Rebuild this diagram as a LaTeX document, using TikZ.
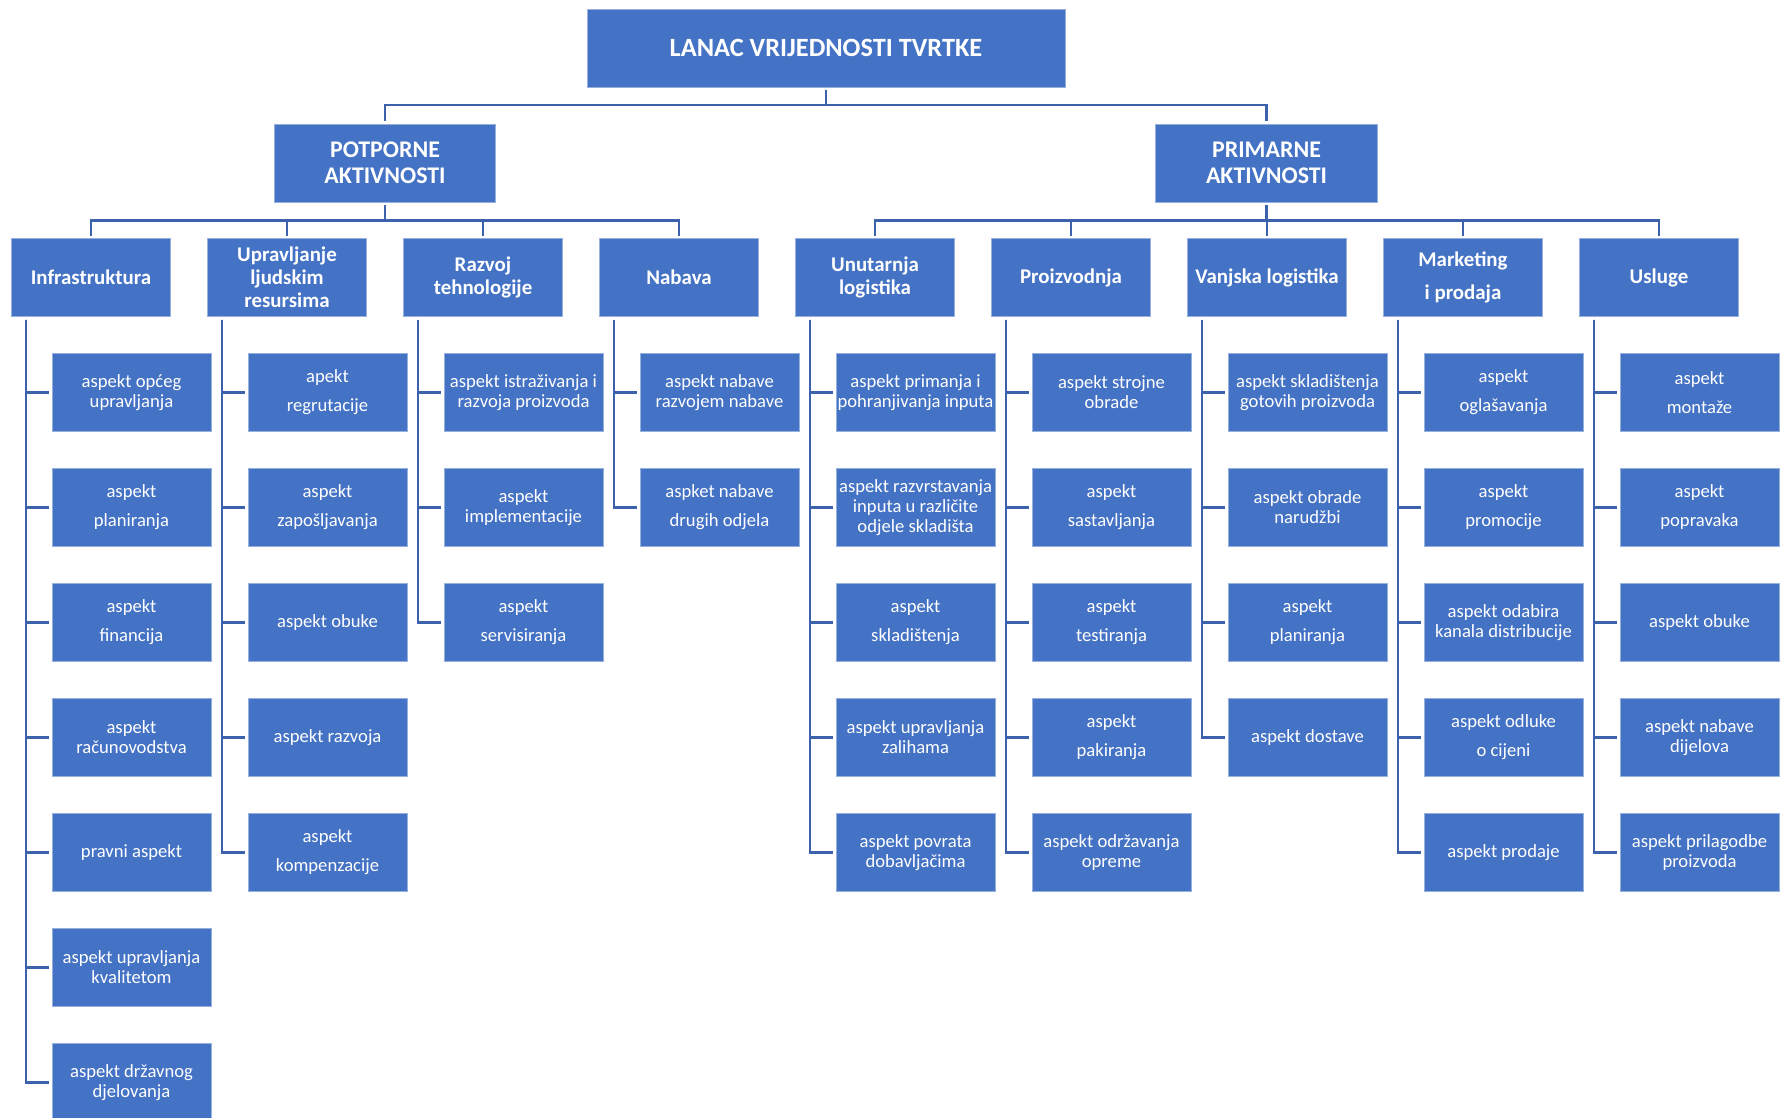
\documentclass[tikz,border=0pt]{standalone}
\usepackage{fontspec}
\setmainfont{Carlito}
\usepackage{xcolor}
\usetikzlibrary{positioning}
\definecolor{boxblue}{RGB}{68,114,196}
\definecolor{boxedge}{RGB}{150,176,222}
\definecolor{lineblue}{RGB}{60,98,173}
\tikzset{%
	chainbox/.style  = {draw=boxedge, line width=0.5pt, fill=boxblue, text=white, inner sep=0pt, outer sep=0.06cm, align=center},
	headbox/.style   = {chainbox, minimum width=9.56cm, minimum height=1.56cm, font=\bfseries\fontsize{15}{18}\selectfont},
	groupbox/.style  = {chainbox, minimum width=4.43cm, minimum height=1.56cm, font=\bfseries\fontsize{13.6}{14.6}\selectfont},
	areabox/.style   = {chainbox, minimum width=3.18cm, minimum height=1.56cm, font=\bfseries\fontsize{11.9}{13.1}\selectfont},
	aspectbox/.style = {chainbox, minimum width=3.18cm, minimum height=1.56cm, font=\fontsize{10.6}{11.4}\selectfont},
	loose/.style     = {font=\fontsize{10.6}{16.5}\selectfont},
	looseb/.style    = {font=\bfseries\fontsize{11.9}{18.8}\selectfont},
	link/.style      = {draw=lineblue, line width=1.4pt},
}

\begin{document}
\begin{tikzpicture}[x=0.02cm,y=-0.02cm]
	\useasboundingbox (0,0) rectangle (1787,1117);
	% top
	\node[headbox] (lanac) at (826,48) {LANAC VRIJEDNOSTI TVRTKE};
	\node[groupbox] (potporne) at (385,163) {POTPORNE\\AKTIVNOSTI};
	\node[groupbox] (primarne) at (1266.5,163) {PRIMARNE\\AKTIVNOSTI};
	\draw[link] (lanac.south) -- ++(0,15) -| (potporne.north);
	\draw[link] (lanac.south) -- ++(0,15) -| (primarne.north);
	% second level
	\node[areabox] (infra) at (91,277.7) {Infrastruktura};
	\node[areabox] (ljudi) at (287,277.7) {Upravljanje\\ljudskim\\resursima};
	\node[areabox] (tehno) at (483,277.7) {Razvoj\\tehnologije};
	\node[areabox] (nabava) at (679,277.7) {Nabava};
	\node[areabox] (unutlog) at (875,277.7) {Unutarnja\\logistika};
	\node[areabox] (proizv) at (1071,277.7) {Proizvodnja};
	\node[areabox] (vanjlog) at (1267,277.7) {Vanjska logistika};
	\node[areabox,looseb] (market) at (1463,277.7) {Marketing\\i prodaja};
	\node[areabox] (usluge) at (1659,277.7) {Usluge};
	\draw[link] (potporne.south) -- ++(0,15.3) -| (infra.north);
	\draw[link] (potporne.south) -- ++(0,15.3) -| (ljudi.north);
	\draw[link] (potporne.south) -- ++(0,15.3) -| (tehno.north);
	\draw[link] (potporne.south) -- ++(0,15.3) -| (nabava.north);
	\draw[link] (primarne.south) -- ++(0,15.3) -| (unutlog.north);
	\draw[link] (primarne.south) -- ++(0,15.3) -| (proizv.north);
	\draw[link] (primarne.south) -- ++(0,15.3) -| (vanjlog.north);
	\draw[link] (primarne.south) -- ++(0,15.3) -| (market.north);
	\draw[link] (primarne.south) -- ++(0,15.3) -| (usluge.north);
	% infrastruktura
	\node[aspectbox] (i1) at (131.5,392.5) {aspekt općeg\\upravljanja};
	\node[aspectbox,loose] (i2) at (131.5,507.5) {aspekt\\planiranja};
	\node[aspectbox,loose] (i3) at (131.5,622.5) {aspekt\\financija};
	\node[aspectbox] (i4) at (131.5,737.5) {aspekt\\računovodstva};
	\node[aspectbox] (i5) at (131.5,852.5) {pravni aspekt};
	\node[aspectbox] (i6) at (131.5,967.5) {aspekt upravljanja\\kvalitetom};
	\node[aspectbox] (i7) at (131.5,1082.5) {aspekt državnog\\djelovanja};
	\draw[link] (infra.south) ++(-65,0) |- (i1.west);
	\draw[link] (infra.south) ++(-65,0) |- (i2.west);
	\draw[link] (infra.south) ++(-65,0) |- (i3.west);
	\draw[link] (infra.south) ++(-65,0) |- (i4.west);
	\draw[link] (infra.south) ++(-65,0) |- (i5.west);
	\draw[link] (infra.south) ++(-65,0) |- (i6.west);
	\draw[link] (infra.south) ++(-65,0) |- (i7.west);
	% ljudski resursi
	\node[aspectbox,loose] (l1) at (327.5,392.5) {apekt\\regrutacije};
	\node[aspectbox,loose] (l2) at (327.5,507.5) {aspekt\\zapošljavanja};
	\node[aspectbox] (l3) at (327.5,622.5) {aspekt obuke};
	\node[aspectbox] (l4) at (327.5,737.5) {aspekt razvoja};
	\node[aspectbox,loose] (l5) at (327.5,852.5) {aspekt\\kompenzacije};
	\draw[link] (ljudi.south) ++(-65,0) |- (l1.west);
	\draw[link] (ljudi.south) ++(-65,0) |- (l2.west);
	\draw[link] (ljudi.south) ++(-65,0) |- (l3.west);
	\draw[link] (ljudi.south) ++(-65,0) |- (l4.west);
	\draw[link] (ljudi.south) ++(-65,0) |- (l5.west);
	% tehnologija
	\node[aspectbox] (t1) at (523.5,392.5) {aspekt istraživanja i\\razvoja proizvoda};
	\node[aspectbox] (t2) at (523.5,507.5) {aspekt\\implementacije};
	\node[aspectbox,loose] (t3) at (523.5,622.5) {aspekt\\servisiranja};
	\draw[link] (tehno.south) ++(-65,0) |- (t1.west);
	\draw[link] (tehno.south) ++(-65,0) |- (t2.west);
	\draw[link] (tehno.south) ++(-65,0) |- (t3.west);
	% nabava
	\node[aspectbox] (n1) at (719.5,392.5) {aspekt nabave\\razvojem nabave};
	\node[aspectbox,loose] (n2) at (719.5,507.5) {aspket nabave\\drugih odjela};
	\draw[link] (nabava.south) ++(-65,0) |- (n1.west);
	\draw[link] (nabava.south) ++(-65,0) |- (n2.west);
	% unutarnja logistika
	\node[aspectbox] (u1) at (915.5,392.5) {aspekt primanja i\\pohranjivanja inputa};
	\node[aspectbox] (u2) at (915.5,507.5) {aspekt razvrstavanja\\inputa u različite\\odjele skladišta};
	\node[aspectbox,loose] (u3) at (915.5,622.5) {aspekt\\skladištenja};
	\node[aspectbox] (u4) at (915.5,737.5) {aspekt upravljanja\\zalihama};
	\node[aspectbox] (u5) at (915.5,852.5) {aspekt povrata\\dobavljačima};
	\draw[link] (unutlog.south) ++(-65,0) |- (u1.west);
	\draw[link] (unutlog.south) ++(-65,0) |- (u2.west);
	\draw[link] (unutlog.south) ++(-65,0) |- (u3.west);
	\draw[link] (unutlog.south) ++(-65,0) |- (u4.west);
	\draw[link] (unutlog.south) ++(-65,0) |- (u5.west);
	% proizvodnja
	\node[aspectbox] (p1) at (1111.5,392.5) {aspekt strojne\\obrade};
	\node[aspectbox,loose] (p2) at (1111.5,507.5) {aspekt\\sastavljanja};
	\node[aspectbox,loose] (p3) at (1111.5,622.5) {aspekt\\testiranja};
	\node[aspectbox,loose] (p4) at (1111.5,737.5) {aspekt\\pakiranja};
	\node[aspectbox] (p5) at (1111.5,852.5) {aspekt održavanja\\opreme};
	\draw[link] (proizv.south) ++(-65,0) |- (p1.west);
	\draw[link] (proizv.south) ++(-65,0) |- (p2.west);
	\draw[link] (proizv.south) ++(-65,0) |- (p3.west);
	\draw[link] (proizv.south) ++(-65,0) |- (p4.west);
	\draw[link] (proizv.south) ++(-65,0) |- (p5.west);
	% vanjska logistika
	\node[aspectbox] (v1) at (1307.5,392.5) {aspekt skladištenja\\gotovih proizvoda};
	\node[aspectbox] (v2) at (1307.5,507.5) {aspekt obrade\\narudžbi};
	\node[aspectbox,loose] (v3) at (1307.5,622.5) {aspekt\\planiranja};
	\node[aspectbox] (v4) at (1307.5,737.5) {aspekt dostave};
	\draw[link] (vanjlog.south) ++(-65,0) |- (v1.west);
	\draw[link] (vanjlog.south) ++(-65,0) |- (v2.west);
	\draw[link] (vanjlog.south) ++(-65,0) |- (v3.west);
	\draw[link] (vanjlog.south) ++(-65,0) |- (v4.west);
	% marketing i prodaja
	\node[aspectbox,loose] (m1) at (1503.5,392.5) {aspekt\\oglašavanja};
	\node[aspectbox,loose] (m2) at (1503.5,507.5) {aspekt\\promocije};
	\node[aspectbox] (m3) at (1503.5,622.5) {aspekt odabira\\kanala distribucije};
	\node[aspectbox,loose] (m4) at (1503.5,737.5) {aspekt odluke\\o cijeni};
	\node[aspectbox] (m5) at (1503.5,852.5) {aspekt prodaje};
	\draw[link] (market.south) ++(-65,0) |- (m1.west);
	\draw[link] (market.south) ++(-65,0) |- (m2.west);
	\draw[link] (market.south) ++(-65,0) |- (m3.west);
	\draw[link] (market.south) ++(-65,0) |- (m4.west);
	\draw[link] (market.south) ++(-65,0) |- (m5.west);
	% usluge
	\node[aspectbox,loose] (s1) at (1699.5,392.5) {aspekt\\montaže};
	\node[aspectbox,loose] (s2) at (1699.5,507.5) {aspekt\\popravaka};
	\node[aspectbox] (s3) at (1699.5,622.5) {aspekt obuke};
	\node[aspectbox] (s4) at (1699.5,737.5) {aspekt nabave\\dijelova};
	\node[aspectbox] (s5) at (1699.5,852.5) {aspekt prilagodbe\\proizvoda};
	\draw[link] (usluge.south) ++(-65,0) |- (s1.west);
	\draw[link] (usluge.south) ++(-65,0) |- (s2.west);
	\draw[link] (usluge.south) ++(-65,0) |- (s3.west);
	\draw[link] (usluge.south) ++(-65,0) |- (s4.west);
	\draw[link] (usluge.south) ++(-65,0) |- (s5.west);
\end{tikzpicture}
\end{document}
